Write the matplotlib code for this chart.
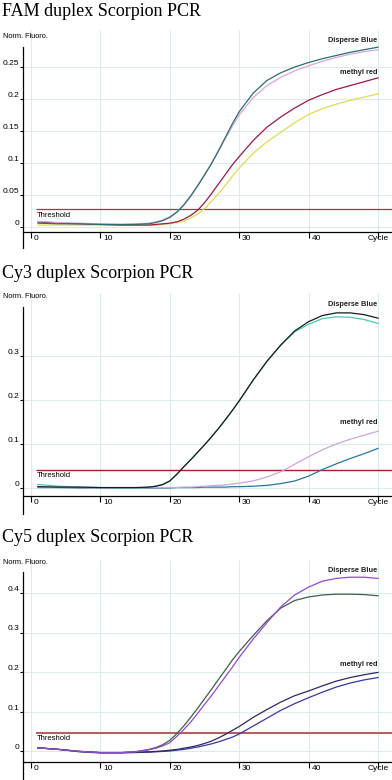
import matplotlib
matplotlib.use("Agg")
from matplotlib import pyplot as plt
from matplotlib import transforms

plt.rcParams['font.family'] = ['Liberation Sans', 'DejaVu Sans']

cycles = [1, 4, 7, 10, 13, 15, 17, 18, 19, 20, 21, 22, 23, 24, 25, 26, 27, 28, 29, 30,
          32, 34, 36, 38, 40, 42, 44, 46, 48, 50]
x_ticks = [0, 10, 20, 30, 40, 50]
x_labels = ["0", "10", "20", "30", "40", "Cycle"]

# FAM
fam_blue_a = [0.006, 0.005, 0.005, 0.004, 0.004, 0.004, 0.005, 0.007, 0.010, 0.015, 0.023, 0.034,
              0.048, 0.064, 0.081, 0.099, 0.119, 0.140, 0.161, 0.180,
              0.209, 0.229, 0.241, 0.250, 0.257, 0.263, 0.268, 0.273, 0.277, 0.281]
fam_blue_b = [0.009, 0.007, 0.006, 0.005, 0.004, 0.005, 0.006, 0.008, 0.011, 0.016, 0.024, 0.035,
              0.049, 0.065, 0.082, 0.099, 0.118, 0.138, 0.157, 0.175,
              0.202, 0.221, 0.234, 0.244, 0.252, 0.259, 0.265, 0.270, 0.274, 0.277]
fam_red_a = [0.008, 0.006, 0.005, 0.004, 0.003, 0.003, 0.003, 0.004, 0.005, 0.006, 0.008, 0.012,
             0.018, 0.026, 0.038, 0.052, 0.067, 0.082, 0.097, 0.110,
             0.135, 0.156, 0.172, 0.186, 0.198, 0.207, 0.215, 0.221, 0.227, 0.233]
fam_red_b = [0.003, 0.003, 0.003, 0.003, 0.003, 0.003, 0.003, 0.003, 0.004, 0.005, 0.007, 0.009,
             0.014, 0.020, 0.029, 0.040, 0.052, 0.065, 0.079, 0.092,
             0.115, 0.133, 0.148, 0.163, 0.176, 0.185, 0.192, 0.198, 0.203, 0.208]
fam_threshold = 0.028
fam_yticks = [0, 0.05, 0.1, 0.15, 0.2, 0.25]

# Cy3
cy3_blue_a = [0.003, 0.002, 0.002, 0.001, 0.001, 0.001, 0.002, 0.004, 0.008, 0.016, 0.031, 0.048,
              0.064, 0.081, 0.098, 0.116, 0.135, 0.155, 0.176, 0.198,
              0.245, 0.288, 0.325, 0.357, 0.378, 0.392, 0.398, 0.398, 0.394, 0.386]
cy3_blue_b = [0.008, 0.004, 0.002, 0.001, 0.0, 0.0, 0.002, 0.004, 0.008, 0.016, 0.031, 0.048,
              0.064, 0.081, 0.098, 0.116, 0.135, 0.155, 0.176, 0.198,
              0.245, 0.288, 0.325, 0.355, 0.372, 0.385, 0.389, 0.388, 0.383, 0.374]
cy3_red_a = [0.002, 0.001, 0.001, 0.0, 0.0, 0.0, 0.001, 0.001, 0.001, 0.001, 0.001, 0.002,
             0.002, 0.003, 0.004, 0.005, 0.006, 0.007, 0.009, 0.011,
             0.016, 0.025, 0.037, 0.054, 0.071, 0.087, 0.100, 0.111, 0.120, 0.129]
cy3_red_b = [0.001, 0.001, 0.0, 0.0, 0.0, 0.0, 0.0, 0.0, 0.0, 0.0, 0.001, 0.001,
             0.001, 0.001, 0.002, 0.002, 0.002, 0.002, 0.003, 0.003,
             0.004, 0.006, 0.010, 0.016, 0.027, 0.042, 0.055, 0.067, 0.078, 0.090]
cy3_threshold = 0.041
cy3_yticks = [0, 0.1, 0.2, 0.3]

# Cy5
cy5_blue_a = [0.008, 0.004, -0.001, -0.004, -0.004, -0.002, 0.004, 0.009, 0.016, 0.027, 0.044, 0.063,
              0.085, 0.108, 0.132, 0.156, 0.181, 0.205, 0.230, 0.252,
              0.292, 0.330, 0.362, 0.381, 0.390, 0.395, 0.397, 0.397, 0.396, 0.393]
cy5_blue_b = [0.008, 0.004, -0.001, -0.004, -0.004, -0.002, 0.003, 0.007, 0.013, 0.021, 0.037, 0.054,
              0.073, 0.095, 0.118, 0.140, 0.164, 0.188, 0.212, 0.237,
              0.283, 0.325, 0.365, 0.395, 0.415, 0.430, 0.437, 0.440, 0.440, 0.437]
cy5_red_a = [0.008, 0.004, -0.001, -0.004, -0.004, -0.003, -0.002, -0.001, 0.0, 0.002, 0.004, 0.007,
             0.010, 0.014, 0.019, 0.025, 0.033, 0.042, 0.052, 0.062,
             0.085, 0.105, 0.124, 0.140, 0.152, 0.165, 0.177, 0.186, 0.193, 0.199]
cy5_red_b = [0.008, 0.004, -0.002, -0.005, -0.005, -0.004, -0.003, -0.002, -0.001, 0.0, 0.002, 0.004,
             0.007, 0.010, 0.014, 0.018, 0.023, 0.029, 0.035, 0.043,
             0.063, 0.083, 0.103, 0.120, 0.135, 0.149, 0.162, 0.172, 0.180, 0.186]
cy5_threshold = 0.046
cy5_yticks = [0, 0.1, 0.2, 0.3, 0.4]

W, H = 392, 780
fig = plt.figure(figsize=(W / 100, H / 100), dpi=100)


def panel(title, title_py, top_py, bot_py, zero_py, px_per_unit, spine_top_py, axis_py,
          series, colors, thr, thr_color, thr_lw, yticks, blue_py, red_py):
    ax = fig.add_axes([23 / W, 1 - bot_py / H, 1 - 23 / W, (bot_py - top_py) / H])
    val = lambda py: (zero_py - py) / px_per_unit
    cyc = lambda px: (px - 31) / 6.94
    ax.set_xlim(cyc(23), cyc(W))
    ax.set_ylim(val(bot_py), val(top_py))
    for s in ['top', 'right']:
        ax.spines[s].set_visible(False)
    ax.spines['left'].set_bounds(val(bot_py), val(spine_top_py))
    ax.spines['bottom'].set_position(('data', val(axis_py)))
    for s in ['left', 'bottom']:
        ax.spines[s].set_linewidth(0.9)
    ax.set_facecolor('none')

    # grid
    for yt in yticks:
        ax.axhline(yt, color='#dcecec', lw=0.8, zorder=0)
    ax.vlines(x_ticks, val(axis_py), val(top_py), color='#dcecec', lw=0.8, zorder=0)

    for ys, c in zip(series, colors):
        ax.plot(cycles, ys, color=c, lw=0.9, zorder=3)

    ax.hlines(thr, 0.7, cyc(W), color=thr_color, lw=thr_lw, zorder=2)
    ax.text(0.85, thr - 6 / px_per_unit, "Threshold", fontsize=5.5, va='center', ha='left')

    ax.text(49.9, val(blue_py), "Disperse Blue", fontsize=5.3, fontweight='bold',
            ha='right', va='center', color='#222222')
    ax.text(49.9, val(red_py), "methyl red", fontsize=5.3, fontweight='bold',
            ha='right', va='center', color='#222222')

    ax.set_yticks(yticks)
    ax.set_yticklabels([("%g" % t) for t in yticks], fontsize=6)
    for lbl in ax.get_yticklabels():
        lbl.set_va('bottom')
    ax.tick_params(axis='y', length=2, width=0.8, pad=0.5)

    ax.set_xticks(x_ticks)
    ax.set_xticklabels(x_labels, fontsize=6)
    ax.tick_params(axis='x', length=4, width=0.8, pad=-2)
    off = transforms.ScaledTranslation(2 / 72, 0, fig.dpi_scale_trans)
    for lbl, t in zip(ax.get_xticklabels(), x_labels):
        if t == "Cycle":
            lbl.set_ha('center')
        else:
            lbl.set_ha('left')
            lbl.set_transform(lbl.get_transform() + off)

    fig.text(3 / W, 1 - (spine_top_py - 10) / H, "Norm. Fluoro.", fontsize=5.3, va='center')
    fig.text(2 / W, 1 - title_py / H, title, fontsize=13, va='center',
             family=['Liberation Serif', 'DejaVu Serif'])
    return ax


panel("FAM duplex Scorpion PCR", 12, 30, 248, 227, 640, 47, 232,
      [fam_red_b, fam_red_a, fam_blue_b, fam_blue_a],
      ['#dede4e', '#a01848', '#d8a8d8', '#2a6e6e'],
      fam_threshold, '#b03048', 0.9, fam_yticks, 40, 73)

panel("Cy3 duplex Scorpion PCR", 273, 293, 514, 488, 440, 307, 496,
      [cy3_red_b, cy3_red_a, cy3_blue_b, cy3_blue_a],
      ['#2878a0', '#c8a8e0', '#48c8b8', '#1a1a1a'],
      cy3_threshold, '#b02020', 1.0, cy3_yticks, 305, 423)

panel("Cy5 duplex Scorpion PCR", 538, 560, 780, 751, 395, 572, 762,
      [cy5_red_b, cy5_red_a, cy5_blue_a, cy5_blue_b],
      ['#3838a8', '#302860', '#3c6048', '#9848d0'],
      cy5_threshold, '#b86060', 1.5, cy5_yticks, 570, 664)

fig.savefig("out.png", dpi=100)
